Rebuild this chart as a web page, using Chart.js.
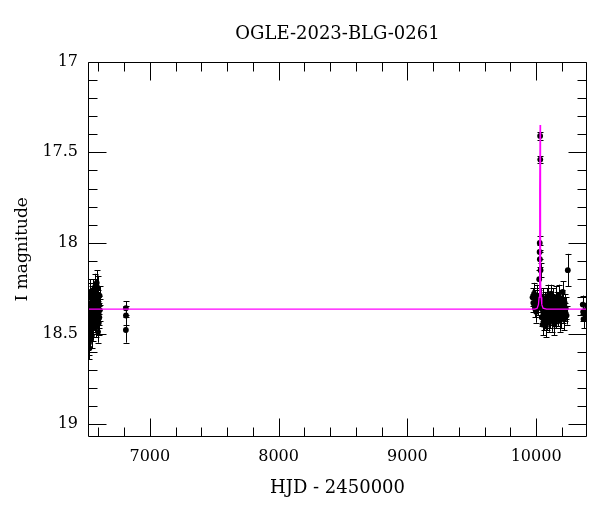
<!DOCTYPE html>
<html><head><meta charset="utf-8">
<script src="https://cdn.jsdelivr.net/npm/chart.js@4.4.0/dist/chart.umd.min.js"></script>
<style>html,body{margin:0;padding:0;background:#fff}#wrap{width:600px;height:512px}</style>
</head><body><div id="wrap"><canvas id="c" width="600" height="512"></canvas></div>
<script>
const titleText = "OGLE-2023-BLG-0261";
const xTitle = "HJD - 2450000";
const yTitle = "I magnitude";
const xTicks = [7000, 8000, 9000, 10000];
const yTicks = [17, 17.5, 18, 18.5, 19];
const xMinorStep = 200;
const yMinorStep = 0.1;
const xRange = [6520, 10395];
const yRange = [17, 19.07];

const hjd = [
 6528,6531,6530,6532,6534,6535,6536,6538,6540,6542,6544,6546,6548,6550,6552,6554,6556,6558,6560,6562,6564,6566,6568,6570,6572,6574,6576,6578,6580,6582,6584,6586,6588,6590,6592,6594,6596,6598,6600,6602,6604,6606,6608,6610,6612,
 6814,6815,6814,
 9972,9978,9984,9990,9995,10000,10005,10010,10015,10020,10024,10027,10028,10029,10031,10032,10034,10036,10040,10043,10047,10050,10054,10057,10060,10064,10067,10071,10074,10078,10081,10085,10088,10092,10095,10099,10102,10106,10109,10113,10116,10120,10124,10127,10131,10134,10138,10142,10145,10149,10152,10156,10160,10163,10167,10171,10175,10178,10182,10186,10190,10194,10198,10202,10206,10210,10214,10218,10222,10226,10230,10236,10246,
 10362,10365,10368,10380
];
const mag = [
 18.55,18.58,18.42,18.30,18.48,18.53,18.36,18.27,18.40,18.33,18.45,18.38,18.29,18.51,18.35,18.43,18.31,18.39,18.26,18.47,18.34,18.41,18.30,18.37,18.44,18.32,18.24,18.40,18.35,18.28,18.46,18.38,18.22,18.33,18.42,18.36,18.25,18.49,18.31,18.39,18.44,18.34,18.41,18.29,18.37,
 18.36,18.40,18.48,
 18.30,18.33,18.28,18.36,18.31,18.38,18.33,18.29,18.35,18.31,18.20,18.05,18.00,18.09,17.41,17.54,18.15,18.30,18.36,18.41,18.33,18.45,18.38,18.31,18.43,18.35,18.40,18.32,18.46,18.37,18.30,18.42,18.34,18.39,18.29,18.44,18.36,18.32,18.41,18.35,18.28,18.38,18.43,18.33,18.40,18.31,18.37,18.45,18.34,18.39,18.30,18.42,18.36,18.32,18.40,18.35,18.29,18.38,18.43,18.34,18.37,18.41,18.31,18.36,18.27,18.39,18.35,18.42,18.33,18.38,18.36,18.40,18.15,
 18.34,18.38,18.42,18.37
];
const err = [
 0.07,0.06,0.06,0.08,0.06,0.05,0.05,0.07,0.06,0.05,0.07,0.06,0.05,0.07,0.06,0.05,0.06,0.05,0.06,0.07,0.05,0.06,0.05,0.06,0.05,0.06,0.07,0.05,0.06,0.05,0.06,0.05,0.07,0.06,0.05,0.06,0.07,0.06,0.05,0.06,0.07,0.05,0.06,0.05,0.06,
 0.04,0.05,0.07,
 0.05,0.05,0.06,0.05,0.05,0.06,0.05,0.06,0.05,0.05,0.05,0.04,0.04,0.04,0.02,0.02,0.04,0.05,0.05,0.05,0.05,0.06,0.05,0.06,0.05,0.05,0.06,0.05,0.06,0.05,0.05,0.06,0.05,0.05,0.06,0.05,0.05,0.05,0.06,0.05,0.05,0.05,0.06,0.05,0.05,0.06,0.05,0.06,0.05,0.05,0.06,0.05,0.05,0.05,0.06,0.05,0.06,0.05,0.06,0.05,0.05,0.06,0.05,0.05,0.06,0.05,0.05,0.06,0.05,0.05,0.06,0.05,0.09,
 0.05,0.05,0.05,0.04
];
const modelHjd = [6520, 9990, 10008, 10018, 10023, 10026, 10028, 10029.5, 10031, 10032.5, 10034, 10036, 10039, 10044, 10054, 10080, 10395];
const modelMag = [18.365, 18.365, 18.36, 18.34, 18.30, 18.20, 18.00, 17.70, 17.35, 17.70, 18.00, 18.20, 18.30, 18.34, 18.36, 18.365, 18.365];

const FONT = "'DejaVu Serif', serif";

const errorBars = {
  id: 'errorBars',
  beforeDatasetsDraw(chart) {
    const {ctx, chartArea: a, scales: {x, y}} = chart;
    ctx.save();
    ctx.beginPath(); ctx.rect(a.left, a.top, a.right - a.left, a.bottom - a.top); ctx.clip();
    ctx.strokeStyle = '#000'; ctx.lineWidth = 1;
    ctx.beginPath();
    for (let i = 0; i < hjd.length; i++) {
      const px = Math.round(x.getPixelForValue(hjd[i])) + 0.5;
      const y1 = y.getPixelForValue(mag[i] - err[i]);
      const y2 = y.getPixelForValue(mag[i] + err[i]);
      ctx.moveTo(px, y1); ctx.lineTo(px, y2);
      ctx.moveTo(px - 3, Math.round(y1) + 0.5); ctx.lineTo(px + 3, Math.round(y1) + 0.5);
      ctx.moveTo(px - 3, Math.round(y2) + 0.5); ctx.lineTo(px + 3, Math.round(y2) + 0.5);
    }
    ctx.stroke();
    ctx.restore();
  }
};

const frame = {
  id: 'frame',
  afterDatasetsDraw(chart) {
    const {ctx, chartArea: a, scales: {x, y}} = chart;
    ctx.save();
    ctx.strokeStyle = '#000'; ctx.lineWidth = 1;
    ctx.beginPath();
    const L = Math.round(a.left) + 0.5, R = Math.round(a.right) - 0.5;
    const T = Math.round(a.top) + 0.5, B = Math.round(a.bottom) - 0.5;
    ctx.rect(L, T, R - L, B - T);
    const major = 18, minor = 9;
    const xStart = Math.ceil(xRange[0] / xMinorStep) * xMinorStep;
    for (let v = xStart; v <= xRange[1]; v += xMinorStep) {
      const isMajor = xTicks.includes(v);
      const len = isMajor ? major : minor;
      const px = Math.round(x.getPixelForValue(v)) + 0.5;
      ctx.moveTo(px, B); ctx.lineTo(px, B - len);
      ctx.moveTo(px, T); ctx.lineTo(px, T + len);
    }
    for (let k = 0; ; k++) {
      const v = +(yRange[0] + k * yMinorStep).toFixed(2);
      if (v > yRange[1]) break;
      const isMajor = yTicks.includes(v);
      const len = isMajor ? major : minor;
      const py = Math.round(y.getPixelForValue(v)) + 0.5;
      ctx.moveTo(L, py); ctx.lineTo(L + len, py);
      ctx.moveTo(R, py); ctx.lineTo(R - len, py);
    }
    ctx.stroke();
    ctx.restore();
  }
};

new Chart(document.getElementById('c'), {
  data: {
    datasets: [
      {
        type: 'line',
        data: modelHjd.map((v, i) => ({x: v, y: modelMag[i]})),
        borderColor: '#ff00ff',
        borderWidth: 1.3,
        pointRadius: 0,
        tension: 0,
        fill: false,
        order: 0
      },
      {
        type: 'scatter',
        data: hjd.map((v, i) => ({x: v, y: mag[i]})),
        backgroundColor: '#000',
        borderColor: '#000',
        borderWidth: 0,
        pointRadius: 2.9,
        order: 1
      }
    ]
  },
  options: {
    responsive: false,
    devicePixelRatio: 1,
    animation: false,
    layout: {padding: {top: 0, right: 13, bottom: 0, left: 0}},
    plugins: {
      legend: {display: false},
      tooltip: {enabled: false},
      title: {
        display: true, text: titleText, color: '#000', fullSize: false,
        font: {family: FONT, size: 18, weight: 'normal'},
        padding: {top: 24, bottom: 16}
      }
    },
    scales: {
      x: {
        type: 'linear', min: xRange[0], max: xRange[1],
        grid: {display: false, drawTicks: false},
        border: {display: false},
        ticks: {color: '#000', font: {family: FONT, size: 16}, padding: 10, maxRotation: 0, callback: v => String(v)},
        afterBuildTicks(s) { s.ticks = xTicks.map(v => ({value: v})); },
        afterFit(s) { s.height = 75; },
        title: {display: true, text: xTitle, color: '#000', font: {family: FONT, size: 18}, padding: {top: 0, bottom: 13}}
      },
      y: {
        type: 'linear', reverse: true, min: yRange[0], max: yRange[1],
        grid: {display: false, drawTicks: false},
        border: {display: false},
        ticks: {color: '#000', font: {family: FONT, size: 16}, padding: 10, callback: v => String(v)},
        afterBuildTicks(s) { s.ticks = yTicks.map(v => ({value: v})); },
        afterFit(s) { s.width = 88; },
        title: {display: true, text: yTitle, color: '#000', font: {family: FONT, size: 17}, padding: {top: 12, bottom: 0}}
      }
    }
  },
  plugins: [errorBars, frame]
});
</script>
</body></html>
